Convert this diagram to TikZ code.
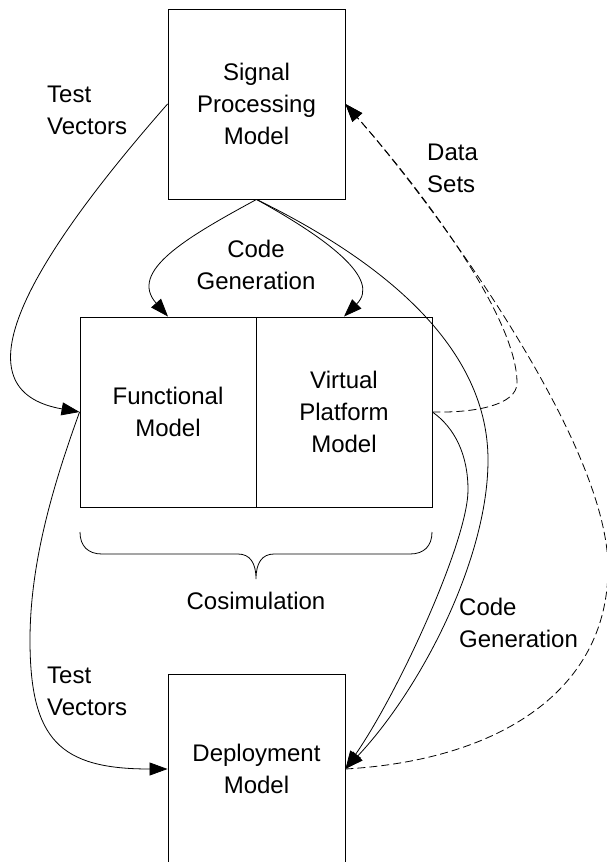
\documentclass[tikz,border=0pt]{standalone}
\usepackage{fontspec}
\setmainfont{Liberation Sans}
\usetikzlibrary{arrows.meta}
\begin{document}
\begin{tikzpicture}[x=1pt,y=-1pt,
  box/.style={draw, line width=0.9pt, minimum width=177pt, minimum height=190pt, inner sep=0pt, align=center, font=\fontsize{24}{32}\selectfont},
  lbl/.style={inner sep=0pt, font=\fontsize{24}{32}\selectfont},
  conn/.style={line width=0.8pt},
  tip/.style={-{Triangle[length=18pt,width=13pt]}},
  dashedconn/.style={conn, dash pattern=on 8pt off 4pt}]
\clip (0,0) rectangle (607,862);
% boxes
\node[box] (sp) at (256.5,104) {Signal\\Processing\\Model};
\node[box, minimum width=176pt] (fm) at (168,412) {Functional\\Model};
\node[box, minimum width=176pt] (vp) at (344,412) {Virtual\\Platform\\Model};
\node[box] (dm) at (256.5,769) {Deployment\\Model};
% labels
\node[lbl, anchor=west, align=left] (tv1) at (47,110) {Test\\Vectors};
\node[lbl, anchor=west, align=left] (ds) at (427,168) {Data\\Sets};
\node[lbl, align=center] (cg1) at (256,265) {Code\\Generation};
\node[lbl] (cos) at (256,601) {Cosimulation};
\node[lbl, anchor=west, align=left] (cg2) at (459,623) {Code\\Generation};
\node[lbl, anchor=west, align=left] (tv2) at (47,691) {Test\\Vectors};
% connectors
\draw[conn,tip] (sp.west) .. controls (-3.6,299) and (-28.4,393) .. (fm.west);
\draw[conn,tip] (sp.south) .. controls (186.6,237.4) and (128,271.4) .. (fm.north);
\draw[conn,tip] (sp.south) .. controls (326.6,238.2) and (381.9,279) .. (vp.north);
\draw[conn,tip] (sp.south) .. controls (370,255) and (488,340) .. (488,460)
                 .. controls (488,560) and (420,690) .. (dm.east);
\draw[conn,tip] (vp.east) .. controls (455,428) and (468,455) .. (468,490)
                 .. controls (468,540) and (400,690) .. (dm.east);
\draw[dashedconn,tip] (vp.east) .. controls (475,413) and (517,405) .. (517,383)
                 .. controls (517,320) and (430,200) .. (sp.east);
\draw[dashedconn,tip] (dm.east) .. controls (500,760) and (608,690) .. (608,568)
                 .. controls (608,440) and (430,200) .. (sp.east);
\draw[conn,tip] (fm.west) .. controls (55,480) and (30,560) .. (30,640)
                 .. controls (30,740) and (60,769) .. (dm.west);
% brace
\draw[conn] (80,532) .. controls (80,546) and (88,554) .. (102,554) -- (238,554)
  .. controls (250,554) and (256,563) .. (256,579)
  .. controls (256,563) and (262,554) .. (274,554) -- (410,554)
  .. controls (424,554) and (432,546) .. (432,532);
\end{tikzpicture}
\end{document}
